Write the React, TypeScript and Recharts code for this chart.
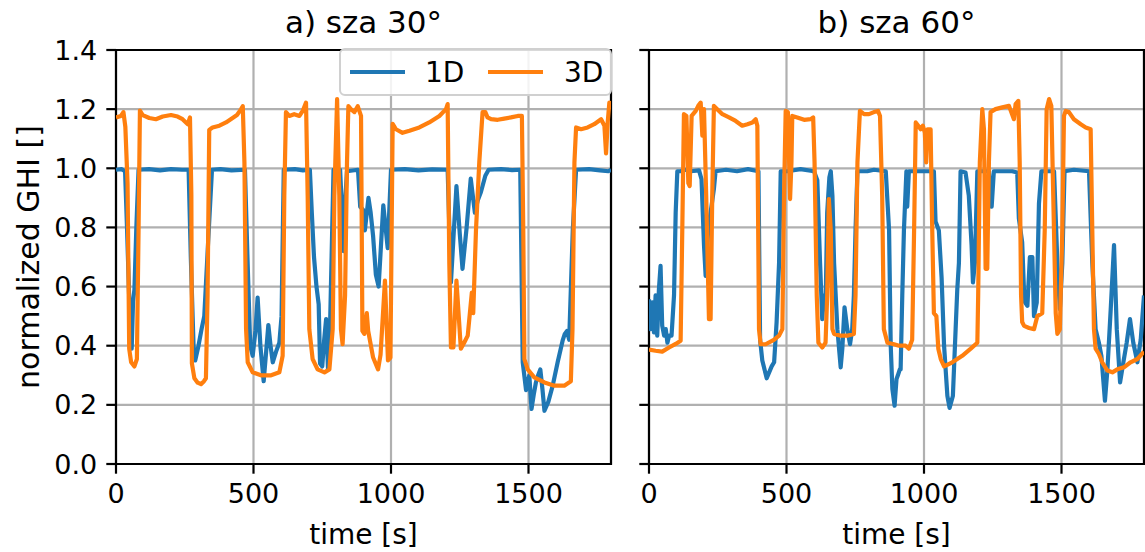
import React from 'react';
import { LineChart, Line, XAxis, YAxis, CartesianGrid, ReferenceArea } from 'recharts';

// panel a) sza 30
const a1dTime = [0, 20, 33, 40, 50, 57, 62, 67, 74, 82, 120, 160, 200, 240, 264, 272, 282, 288, 300, 312, 321, 335, 349, 380, 420, 469, 478, 488, 497, 507, 515, 525, 537, 546, 554, 562, 570, 582, 594, 602, 610, 650, 680, 705, 712, 720, 729, 737, 742, 750, 757, 764, 771, 778, 791, 815, 822, 828, 834, 840, 880, 888, 898, 905, 918, 926, 935, 945, 955, 972, 988, 1000, 1050, 1100, 1150, 1206, 1218, 1228, 1238, 1250, 1260, 1275, 1290, 1305, 1315, 1327, 1343, 1355, 1400, 1440, 1470, 1479, 1491, 1503, 1511, 1520, 1527, 1535, 1543, 1551, 1558, 1572, 1588, 1606, 1624, 1632, 1640, 1648, 1661, 1673, 1720, 1760, 1790, 1800];
const a1dGhi = [0.995, 0.997, 0.99, 0.8, 0.5, 0.39, 0.55, 0.59, 0.8, 0.995, 0.997, 0.993, 0.997, 0.995, 0.995, 0.7, 0.4, 0.35, 0.4, 0.46, 0.5, 0.75, 0.995, 0.997, 0.993, 0.995, 0.7, 0.4, 0.366, 0.45, 0.563, 0.4, 0.28, 0.38, 0.47, 0.4, 0.344, 0.38, 0.41, 0.5, 0.995, 0.997, 0.993, 0.995, 0.85, 0.7, 0.6, 0.54, 0.34, 0.33, 0.42, 0.49, 0.32, 0.45, 0.995, 0.995, 0.85, 0.72, 0.9, 0.99, 0.995, 0.87, 0.86, 0.79, 0.9, 0.85, 0.77, 0.64, 0.6, 0.875, 0.73, 0.995, 0.997, 0.993, 0.996, 0.995, 0.614, 0.78, 0.94, 0.78, 0.66, 0.8, 0.965, 0.85, 0.89, 0.92, 0.975, 0.995, 0.997, 0.994, 0.995, 0.344, 0.25, 0.3, 0.186, 0.24, 0.276, 0.3, 0.32, 0.25, 0.18, 0.21, 0.265, 0.344, 0.417, 0.44, 0.45, 0.42, 0.79, 0.995, 0.997, 0.993, 0.99, 0.995];

const a3dTime = [0, 18, 27, 34, 42, 48, 55, 67, 76, 82, 87, 97, 121, 145, 170, 200, 224, 242, 261, 269, 274, 276, 285, 297, 309, 320, 327, 333, 339, 351, 376, 400, 424, 440, 455, 461, 467, 473, 479, 497, 527, 564, 594, 606, 612, 618, 630, 648, 667, 679, 691, 697, 703, 715, 733, 758, 776, 788, 794, 804, 812, 818, 824, 833, 840, 845, 854, 867, 879, 891, 896, 903, 912, 917, 935, 953, 962, 978, 989, 998, 1006, 1018, 1042, 1067, 1103, 1139, 1176, 1200, 1206, 1212, 1218, 1227, 1238, 1254, 1266, 1279, 1294, 1299, 1309, 1321, 1333, 1343, 1351, 1364, 1388, 1412, 1436, 1461, 1476, 1481, 1485, 1497, 1521, 1558, 1594, 1630, 1654, 1660, 1667, 1673, 1691, 1715, 1739, 1764, 1776, 1782, 1788, 1794, 1800];
const a3dGhi = [1.172, 1.177, 1.19, 1.14, 0.95, 0.39, 0.344, 0.33, 0.355, 0.79, 1.195, 1.18, 1.17, 1.166, 1.175, 1.18, 1.175, 1.166, 1.149, 1.172, 0.91, 0.34, 0.29, 0.275, 0.27, 0.28, 0.29, 0.57, 1.13, 1.138, 1.144, 1.155, 1.17, 1.18, 1.2, 1.21, 1.02, 0.456, 0.344, 0.31, 0.3, 0.3, 0.31, 0.366, 0.907, 1.19, 1.177, 1.183, 1.177, 1.194, 1.222, 0.907, 0.456, 0.355, 0.32, 0.31, 0.32, 0.456, 0.907, 1.234, 0.907, 0.456, 0.405, 0.57, 1.02, 1.21, 1.2, 1.19, 1.21, 1.177, 0.45, 0.44, 0.51, 0.45, 0.36, 0.32, 0.37, 0.62, 0.35, 0.36, 1.15, 1.132, 1.12, 1.127, 1.138, 1.155, 1.177, 1.2, 1.217, 0.68, 0.394, 0.394, 0.62, 0.39, 0.41, 0.434, 0.58, 0.51, 0.79, 1.02, 1.19, 1.19, 1.172, 1.166, 1.164, 1.168, 1.172, 1.177, 1.177, 0.79, 0.355, 0.32, 0.293, 0.276, 0.265, 0.265, 0.28, 0.456, 1.02, 1.138, 1.132, 1.138, 1.149, 1.166, 1.144, 1.05, 1.155, 1.222, 1.22];

// panel b) sza 60
const b1dTime = [0, 6, 12, 18, 24, 30, 36, 42, 48, 55, 61, 67, 73, 82, 91, 97, 103, 115, 133, 152, 182, 191, 200, 206, 215, 224, 236, 242, 280, 320, 360, 398, 404, 412, 428, 446, 455, 464, 473, 479, 503, 551, 600, 612, 622, 630, 636, 642, 648, 656, 661, 667, 673, 685, 697, 703, 711, 721, 731, 739, 745, 751, 758, 794, 818, 861, 873, 879, 885, 893, 900, 905, 912, 915, 921, 927, 936, 939, 945, 964, 1018, 1036, 1042, 1054, 1064, 1073, 1085, 1093, 1105, 1115, 1121, 1127, 1133, 1151, 1163, 1173, 1178, 1185, 1194, 1212, 1236, 1246, 1254, 1273, 1321, 1339, 1345, 1357, 1365, 1376, 1385, 1394, 1400, 1410, 1418, 1427, 1461, 1473, 1485, 1494, 1503, 1511, 1545, 1600, 1612, 1624, 1636, 1645, 1658, 1667, 1679, 1691, 1701, 1713, 1725, 1737, 1749, 1761, 1776, 1788, 1800];
const b1dGhi = [0.557, 0.456, 0.547, 0.445, 0.57, 0.434, 0.59, 0.67, 0.468, 0.434, 0.456, 0.41, 0.434, 0.434, 0.57, 0.85, 0.99, 0.99, 0.995, 0.99, 0.993, 0.963, 0.74, 0.636, 0.79, 0.85, 0.93, 0.99, 0.995, 0.99, 0.997, 0.99, 0.42, 0.35, 0.29, 0.33, 0.344, 0.48, 0.68, 0.99, 0.99, 0.997, 0.99, 0.96, 0.68, 0.49, 0.57, 0.524, 0.85, 0.97, 0.99, 0.907, 0.68, 0.456, 0.327, 0.39, 0.53, 0.456, 0.405, 0.456, 0.57, 0.79, 0.99, 0.99, 0.995, 0.99, 0.79, 0.4, 0.254, 0.197, 0.287, 0.3, 0.32, 0.32, 0.57, 0.79, 0.99, 0.87, 0.99, 0.99, 0.99, 0.99, 0.82, 0.79, 0.63, 0.4, 0.23, 0.19, 0.23, 0.456, 0.59, 0.68, 0.99, 0.986, 0.907, 0.74, 0.614, 0.68, 0.99, 0.99, 0.99, 0.87, 0.99, 0.99, 0.99, 0.986, 0.83, 0.75, 0.55, 0.535, 0.7, 0.7, 0.5, 0.546, 0.88, 0.99, 0.99, 0.99, 0.68, 0.524, 0.68, 0.99, 0.995, 0.99, 0.68, 0.456, 0.41, 0.366, 0.214, 0.32, 0.524, 0.74, 0.456, 0.276, 0.344, 0.41, 0.49, 0.41, 0.344, 0.42, 0.57];

const b3dTime = [0, 24, 48, 73, 97, 115, 121, 127, 136, 143, 148, 155, 170, 179, 188, 194, 200, 208, 218, 224, 230, 236, 248, 267, 291, 315, 339, 358, 376, 388, 394, 400, 406, 424, 454, 473, 485, 491, 497, 505, 513, 518, 521, 539, 564, 588, 597, 602, 610, 616, 630, 642, 648, 654, 661, 667, 673, 697, 721, 745, 751, 758, 767, 782, 800, 818, 833, 840, 848, 854, 867, 891, 909, 933, 945, 957, 964, 970, 979, 988, 996, 1003, 1008, 1013, 1024, 1030, 1036, 1045, 1052, 1061, 1073, 1103, 1139, 1170, 1194, 1197, 1203, 1212, 1218, 1224, 1230, 1236, 1242, 1260, 1285, 1309, 1327, 1333, 1343, 1348, 1353, 1357, 1364, 1382, 1400, 1412, 1430, 1439, 1446, 1455, 1463, 1470, 1479, 1485, 1494, 1503, 1509, 1515, 1527, 1545, 1570, 1588, 1606, 1612, 1618, 1624, 1636, 1648, 1667, 1685, 1703, 1727, 1751, 1776, 1800];
const b3dGhi = [0.387, 0.383, 0.38, 0.394, 0.406, 0.417, 0.79, 1.183, 1.177, 0.95, 0.94, 1.177, 1.194, 1.211, 1.222, 1.11, 1.2, 0.907, 0.49, 0.49, 0.907, 1.211, 1.2, 1.183, 1.172, 1.16, 1.144, 1.149, 1.155, 1.166, 1.144, 0.456, 0.405, 0.405, 0.42, 0.434, 0.456, 0.907, 1.194, 1.19, 0.896, 1.02, 1.177, 1.172, 1.164, 1.166, 1.172, 1.02, 0.57, 0.41, 0.394, 0.41, 0.57, 0.896, 0.79, 0.456, 0.44, 0.434, 0.434, 0.44, 0.57, 1.02, 1.194, 1.183, 1.183, 1.19, 1.194, 1.177, 0.907, 0.456, 0.41, 0.405, 0.4, 0.4, 0.39, 0.42, 0.79, 1.155, 1.144, 1.132, 1.144, 1.12, 1.02, 1.132, 1.132, 0.79, 0.51, 0.5, 0.39, 0.355, 0.33, 0.344, 0.366, 0.39, 0.41, 0.57, 1.02, 1.2, 1.132, 0.66, 0.66, 1.02, 1.19, 1.2, 1.206, 1.211, 1.166, 1.217, 1.228, 1.02, 0.57, 0.48, 0.467, 0.46, 0.456, 0.5, 0.51, 0.79, 1.2, 1.234, 1.211, 0.907, 0.51, 0.44, 0.456, 0.79, 1.177, 1.194, 1.19, 1.166, 1.149, 1.138, 1.132, 0.79, 0.456, 0.39, 0.372, 0.344, 0.316, 0.31, 0.32, 0.327, 0.344, 0.355, 0.38];

const xTicks = [0, 500, 1000, 1500];
const yTicks = [0, 0.2, 0.4, 0.6, 0.8, 1.0, 1.2, 1.4];

const FONT = '"DejaVu Sans", sans-serif';
const FS = 27;
const BLUE = '#1f77b4';
const ORANGE = '#ff7f0e';

const pts = (ts: number[], vs: number[]) => ts.map((t, i) => ({ t, v: vs[i] }));

interface PanelProps {
  left: number;
  width: number;
  yWidth: number;
  right: number;
  showY: boolean;
  d1: { t: number; v: number }[];
  d3: { t: number; v: number }[];
}

const Panel = ({ left, width, yWidth, right, showY, d1, d3 }: PanelProps) => (
  <div style={{ position: 'absolute', left, top: 0 }}>
    <LineChart width={width} height={552} margin={{ top: 50, right, left: 0, bottom: 0 }}>
      <CartesianGrid stroke="#b0b0b0" strokeWidth={2.2} />
      <XAxis
        type="number"
        dataKey="t"
        domain={[0, 1800]}
        ticks={xTicks}
        allowDataOverflow
        height={88}
        axisLine={false}
        tickSize={9.7}
        tickMargin={10}
        tickLine={{ stroke: '#000', strokeWidth: 2.2 }}
        tick={{ fill: '#000', fontSize: FS, fontFamily: FONT }}
      />
      <YAxis
        type="number"
        domain={[0, 1.4]}
        ticks={yTicks}
        allowDataOverflow
        width={yWidth}
        axisLine={false}
        tickSize={9.7}
        tickMargin={9}
        tickLine={{ stroke: '#000', strokeWidth: 2.2 }}
        tick={{ fill: '#000', fontSize: FS, fontFamily: FONT }}
        tickFormatter={(v: number) => (showY ? v.toFixed(1) : '')}
      />
      <Line data={d1} dataKey="v" type="linear" stroke={BLUE} strokeWidth={4.2} strokeLinejoin="round" dot={false} isAnimationActive={false} />
      <Line data={d3} dataKey="v" type="linear" stroke={ORANGE} strokeWidth={4.2} strokeLinejoin="round" dot={false} isAnimationActive={false} />
      <ReferenceArea x1={0} x2={1800} y1={0} y2={1.4} fill="none" stroke="#000" strokeWidth={2.2} ifOverflow="visible" />
    </LineChart>
  </div>
);

export default function App() {
  return (
    <div style={{ position: 'relative', width: 1145, height: 552, background: '#fff', overflow: 'hidden' }}>
      <style>{'body{margin:0}'}</style>
      <Panel left={0} width={630} yWidth={116} right={19} showY d1={pts(a1dTime, a1dGhi)} d3={pts(a3dTime, a3dGhi)} />
      <Panel left={630} width={515} yWidth={19} right={1} showY={false} d1={pts(b1dTime, b1dGhi)} d3={pts(b3dTime, b3dGhi)} />
      <svg width={1145} height={552} style={{ position: 'absolute', left: 0, top: 0, pointerEvents: 'none' }} fontFamily={FONT}>
        <text x={363.5} y={33} fontSize={31} textAnchor="middle" fill="#000">a) sza 30°</text>
        <text x={896.5} y={33} fontSize={31} textAnchor="middle" fill="#000">b) sza 60°</text>
        <text x={363.5} y={544} fontSize={28} textAnchor="middle" fill="#000">time [s]</text>
        <text x={896.5} y={544} fontSize={28} textAnchor="middle" fill="#000">time [s]</text>
        <text transform="translate(39,257) rotate(-90)" fontSize={30} textAnchor="middle" fill="#000">normalized GHI []</text>
        <rect x={340} y={49} width={271} height={46} rx={5} fill="#fff" fillOpacity={0.85} stroke="#d0d0d0" strokeWidth={2} />
        <line x1={350} x2={405} y1={72} y2={72} stroke={BLUE} strokeWidth={4.2} />
        <text x={425} y={82} fontSize={28} fill="#000">1D</text>
        <line x1={488} x2={543} y1={72} y2={72} stroke={ORANGE} strokeWidth={4.2} />
        <text x={564} y={82} fontSize={28} fill="#000">3D</text>
      </svg>
    </div>
  );
}
